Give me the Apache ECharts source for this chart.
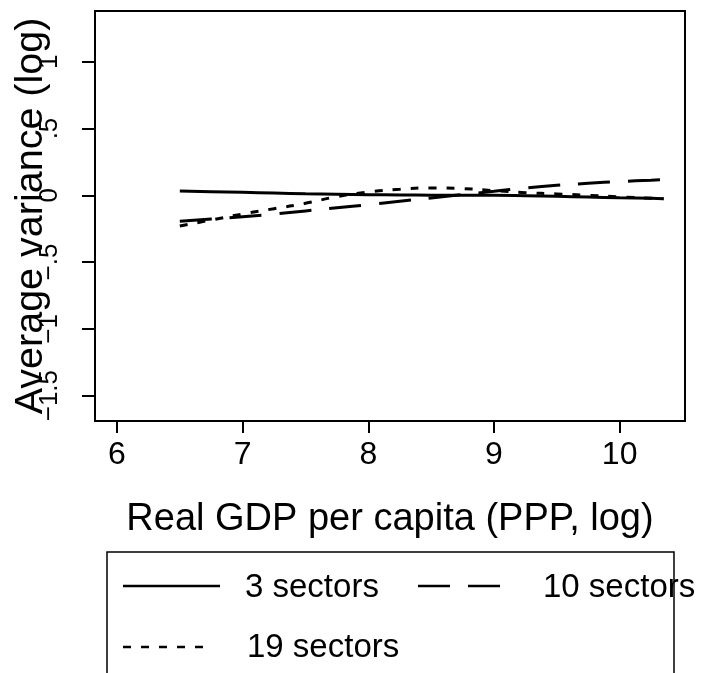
<!DOCTYPE html>
<html>
<head>
<meta charset="utf-8">
<script src="https://cdn.jsdelivr.net/npm/echarts@6/dist/echarts.min.js"></script>
<style>
  html, body { margin: 0; padding: 0; background: #fff; }
  #chart { width: 717px; height: 673px; }
</style>
</head>
<body>
<div id="chart"></div>
<script>
// Log real GDP per capita grid shared by the three fitted curves
const gdpLog = [6.5, 6.75, 7, 7.25, 7.5, 7.75, 8, 8.25, 8.5, 8.75, 9, 9.25, 9.5, 9.75, 10, 10.25, 10.35];
// Average variance (log) by number of sectors
const sectors3  = [0.032, 0.027, 0.022, 0.017, 0.012, 0.008, 0.005, 0.003, 0.001, 0.0, 0.0, -0.003, -0.008, -0.013, -0.018, -0.022, -0.025];
const sectors10 = [-0.195, -0.178, -0.16, -0.14, -0.117, -0.093, -0.07, -0.045, -0.02, 0.005, 0.03, 0.055, 0.075, 0.09, 0.103, 0.113, 0.117];
const sectors19 = [-0.23, -0.185, -0.14, -0.1, -0.06, -0.01, 0.025, 0.045, 0.055, 0.05, 0.035, 0.02, 0.01, 0.0, -0.012, -0.022, -0.025];
const seriesNames = ['3 sectors', '10 sectors', '19 sectors'];
const xTicks = [6, 7, 8, 9, 10];
const yTicks = [-1.5, -1, -0.5, 0, 0.5, 1];

const FONT = 'Liberation Sans, Arial, Helvetica, sans-serif';

function pairs(ys) { return gdpLog.map((x, i) => [x, ys[i]]); }

// Stata-style numbers: "−.5", ".5", "−1.5"
function fmtY(v) {
  let s = String(Math.abs(v)).replace(/^0\./, '.');
  return v < 0 ? '\u2212' + s : s;
}

const chart = echarts.init(document.getElementById('chart'), null, { renderer: 'canvas' });

const lineBase = { type: 'line', showSymbol: false, smooth: true, animation: false };

chart.setOption({
  backgroundColor: '#fff',
  animation: false,
  grid: {
    left: 95, top: 11, right: 32, bottom: 252,
    outerBoundsMode: 'none', containLabel: false,
    show: true, borderColor: '#000', borderWidth: 2, backgroundColor: 'transparent'
  },
  xAxis: {
    type: 'value', min: 5.825, max: 10.52,
    name: 'Real GDP per capita (PPP, log)', nameLocation: 'middle', nameGap: 80, nameMoveOverlap: false,
    nameTextStyle: { fontFamily: FONT, fontSize: 38, color: '#000' },
    axisLine: { show: false, onZero: false },
    splitLine: { show: false },
    axisTick: { show: true, customValues: xTicks, length: 12, lineStyle: { color: '#000', width: 2 } },
    axisLabel: { customValues: xTicks, fontFamily: FONT, fontSize: 32, color: '#000', margin: 18 }
  },
  yAxis: {
    type: 'value', min: -1.69, max: 1.38,
    name: 'Average variance (log)', nameLocation: 'middle', nameRotate: 90, nameGap: 44, nameMoveOverlap: false,
    nameTextStyle: { fontFamily: FONT, fontSize: 39.5, color: '#000' },
    axisLine: { show: false, onZero: false },
    splitLine: { show: false },
    axisTick: { show: true, customValues: yTicks, length: 13, lineStyle: { color: '#000', width: 2 } },
    axisLabel: { customValues: yTicks, rotate: 90, formatter: fmtY, fontFamily: FONT, fontSize: 26, color: '#000', margin: 32 }
  },
  series: [
    Object.assign({}, lineBase, { name: seriesNames[0], data: pairs(sectors3),  lineStyle: { color: '#000', width: 3, type: 'solid' } }),
    Object.assign({}, lineBase, { name: seriesNames[1], data: pairs(sectors10), lineStyle: { color: '#000', width: 3, type: [32, 18] } }),
    Object.assign({}, lineBase, { name: seriesNames[2], data: pairs(sectors19), lineStyle: { color: '#000', width: 3, type: [8, 10] } })
  ],
  graphic: [
    { type: 'rect', shape: { x: 107, y: 552, width: 567, height: 200 }, style: { fill: 'none', stroke: '#000', lineWidth: 1.5 } },
    { type: 'line', shape: { x1: 123, y1: 586, x2: 220, y2: 586 }, style: { stroke: '#000', lineWidth: 2.5 } },
    { type: 'line', shape: { x1: 418, y1: 586, x2: 500, y2: 586 }, style: { stroke: '#000', lineWidth: 2.5, lineDash: [32, 18] } },
    { type: 'line', shape: { x1: 123, y1: 647, x2: 205, y2: 647 }, style: { stroke: '#000', lineWidth: 2.5, lineDash: [8, 10] } },
    { type: 'text', x: 245, y: 588, style: { text: seriesNames[0], font: '33px ' + FONT, fill: '#000', textVerticalAlign: 'middle' } },
    { type: 'text', x: 543, y: 588, style: { text: seriesNames[1], font: '33px ' + FONT, fill: '#000', textVerticalAlign: 'middle' } },
    { type: 'text', x: 247, y: 648, style: { text: seriesNames[2], font: '33px ' + FONT, fill: '#000', textVerticalAlign: 'middle' } }
  ]
});
</script>
</body>
</html>
